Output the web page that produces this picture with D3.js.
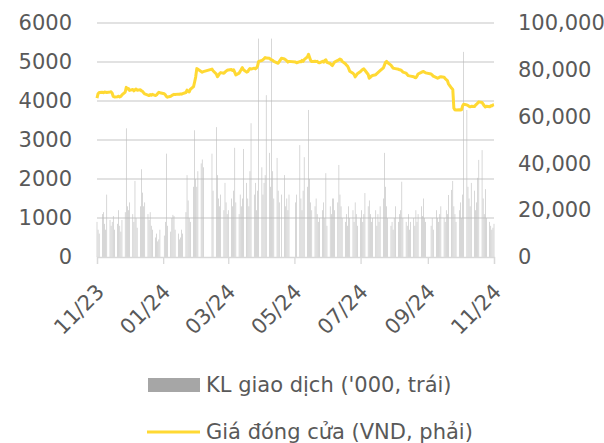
<!DOCTYPE html>
<html>
<head>
<meta charset="utf-8">
<script src="https://cdn.jsdelivr.net/npm/d3@7"></script>
<style>
body { margin: 0; background: #fff; }
text { font-family: "DejaVu Sans", sans-serif; fill: #595959; }
</style>
</head>
<body>
<div class="main"></div>
<script>
//canvas config
var margin = {top: 23, right: 110, bottom: 186, left: 97};
var width = 604 - margin.left - margin.right;
var height = 443 - margin.top - margin.bottom;

//market holidays (no trading)
var holidays = ["2024-01-01", "2024-02-08", "2024-02-09", "2024-02-12", "2024-02-13", "2024-02-14",
	"2024-04-18", "2024-04-29", "2024-04-30", "2024-05-01", "2024-09-02", "2024-09-03"];

//closing price, VND (one per trading day)
var closePrice = [
	67900, 69800, 70300, 70400, 70200, 70500, 70400, 70300, 70500, 70600, 70000, 68600, 68400, 68500, 68700, 68400, 68600, 69300, 70500, 72500, 71800, 72000,//11/23
	71200, 71600, 71000, 71400, 71800, 71300, 71500, 71000, 70800, 70200, 69700, 69200, 69000, 69400, 69100, 69500, 69000, 69300, 69900, 70400, 70200,//12/23
	69800, 69300, 68600, 68300, 68700, 69000, 69300, 69500, 69400, 69600, 69500, 69700, 69600, 69800, 70300, 71300, 70800, 70500, 71600, 72800, 74800, 77000,//01/24
	80500, 80200, 79300, 79000, 79200, 80300, 79600, 78200, 77000, 77600, 78400, 78800, 78500, 79000, 79400, 79800,//02/24
	79900, 80100, 79700, 80000, 78900, 77800, 78600, 79300, 80200, 80900, 80000, 79000, 79200, 80000, 80500, 80300, 80700, 80400, 80800, 81600, 83600,//03/24
	84000, 84300, 84700, 85200, 85000, 84900, 84500, 84200, 84000, 83600, 83000, 82800, 83500, 84900, 84600, 84200, 83800, 83300, 83600,//04/24
	83300, 83000, 83500, 83400, 84000, 83600, 84300, 85500, 86600, 85300, 84000, 83500, 83700, 83500, 83600, 83200, 83000, 83600, 83300, 84000, 84300, 83200,//05/24
	82700, 82200, 81800, 82600, 83300, 84000, 84300, 84600, 84400, 83600, 82600, 82000, 81600, 80600, 79400, 78500, 78000, 77000, 77600, 78300,//06/24
	79300, 79800, 80200, 80400, 79800, 78000, 76400, 76800, 77300, 77600, 77900, 78400, 78800, 79200, 79600, 80800, 82000, 83200, 83600, 83000, 82000, 81300, 80700,//07/24
	80600, 80500, 80200, 80000, 79900, 79600, 79000, 78600, 78000, 77500, 77400, 77300, 77000, 76700, 76600, 77300, 78200, 78900, 79200, 79300, 79000, 78700,//08/24
	78200, 77800, 77300, 76700, 76400, 76600, 76900, 77000, 76800, 76200, 75800, 75400, 74000, 72100, 71600, 63600, 62900, 62800, 62900,//09/24
	62800, 62900, 64500, 65300, 65000, 64700, 64400, 64200, 64400, 64300, 64900, 65300, 65800, 66300, 66000, 65300, 64600, 64100, 64400, 64200, 64600, 64500, 65000,//10/24
	65100//11/24
];

//trading volume, '000 shares
var volume = [
	900, 700, 600, 1100, 1150, 850, 700, 1600, 950, 800, 900, 1050, 700, 850, 1200, 800, 650, 950, 1150, 3300, 1300, 1200,
	1400, 1100, 900, 1950, 1000, 750, 1300, 2250, 1650, 1300, 1400, 1100, 950, 1150, 800, 700, 500, 600, 400, 450, 700,
	550, 900, 2650, 800, 650, 1000, 1080, 1050, 700, 600, 450, 500, 700, 600, 1150, 2100, 1450, 1000, 900, 1800, 3250, 2000,
	1800, 2200, 2400, 2500, 2300, 2650, 1700, 3330, 2100, 1500, 1300, 1600, 1200, 1900, 1400, 1100,
	1200, 1500, 1300, 1700, 2800, 1400, 1100, 1600, 1300, 1500, 2770, 1900, 1500, 1300, 2200, 3430, 1600, 1900, 1200, 1700, 5600,
	2300, 1600, 1900, 2100, 4150, 2670, 1800, 5600, 2200, 1500, 2540, 1700, 1400, 1600, 2100, 1300, 1500, 1200, 1600,
	1400, 1600, 2870, 1500, 1200, 1700, 2560, 1800, 3770, 2000, 1400, 1200, 1300, 1500, 1100, 900, 1000, 1200, 1400, 1000, 2150, 800,
	1300, 1100, 1500, 1500, 1200, 1400, 2360, 1600, 1300, 1000, 900, 1100, 800, 1300, 1000, 1200, 900, 1400, 1100, 800,
	1000, 1200, 900, 1100, 1640, 1300, 1450, 1100, 900, 1000, 1200, 800, 1100, 900, 1300, 1500, 2670, 1800, 1300, 1000, 800, 900, 700,
	1000, 1300, 900, 1100, 1200, 1930, 1000, 900, 800, 1100, 700, 900, 1000, 800, 1200, 900, 1100, 1300, 1050, 1500, 1000, 900,
	800, 1000, 700, 1200, 1000, 900, 1100, 1300, 1000, 900, 1200, 1100, 1590, 1720, 1950, 1300, 1100, 900, 1200,
	1400, 1000, 1600, 5260, 3770, 1800, 1500, 1300, 1900, 1700, 1200, 1400, 2030, 2490, 2740, 1500, 1100, 1740, 1000, 900, 800, 700, 750,
	850
];

var leftTicks = [0, 1000, 2000, 3000, 4000, 5000, 6000];
var rightTicks = [0, 20000, 40000, 60000, 80000, 100000];
var monthTicks = ["2023-11-01", "2024-01-01", "2024-03-01", "2024-05-01", "2024-07-01", "2024-09-01", "2024-11-01"];
var legendLabels = ["KL giao dịch ('000, trái)", "Giá đóng cửa (VND, phải)"];

var fmtDay = d3.timeFormat("%Y-%m-%d");
var parseDay = d3.timeParse("%Y-%m-%d");

//trading calendar: weekdays minus holidays
var tradingDays = d3.timeDay.range(new Date(2023, 10, 1), new Date(2024, 10, 2))
	.filter(function(d) { return d.getDay() != 0 && d.getDay() != 6 && holidays.indexOf(fmtDay(d)) == -1; });

var n = Math.min(tradingDays.length, closePrice.length, volume.length);
var data = [];
for (var i = 0; i < n; i++) {
	data.push({date: tradingDays[i], price: closePrice[i], vol: volume[i]});
}

var svg = d3.select(".main")
	.append("svg")
	.attr("width", 604)
	.attr("height", 443);

var g = svg.append("g")
	.attr("transform", "translate(" + margin.left + "," + margin.top + ")");

var xScale = d3.scaleTime()
	.domain([parseDay("2023-11-01"), parseDay("2024-11-01")])
	.range([0, width]);
var yLeft = d3.scaleLinear().domain([0, 6000]).range([height, 0]);
var yRight = d3.scaleLinear().domain([0, 100000]).range([height, 0]);

//gridlines
g.append("g")
	.attr("class", "grid")
	.selectAll("line")
	.data(leftTicks.slice(1))
	.enter()
	.append("line")
	.attr("x1", 0)
	.attr("x2", width)
	.attr("y1", function(d) { return yLeft(d); })
	.attr("y2", function(d) { return yLeft(d); })
	.style("stroke", "#d9d9d9")
	.style("stroke-width", 1.3);

//volume bars
g.append("g")
	.attr("class", "bars")
	.selectAll("rect")
	.data(data)
	.enter()
	.append("rect")
	.attr("x", function(d) { return xScale(d.date) - 0.3; })
	.attr("width", 0.6)
	.attr("y", function(d) { return yLeft(d.vol); })
	.attr("height", function(d) { return height - yLeft(d.vol); })
	.style("fill", "#bdbdbd");

//x axis
var xAxis = d3.axisBottom(xScale)
	.tickValues(monthTicks.map(parseDay))
	.tickFormat(d3.timeFormat("%m/%y"))
	.tickSize(7);
var xg = g.append("g")
	.attr("class", "x-axis")
	.attr("transform", "translate(0," + height + ")")
	.call(xAxis);
xg.select(".domain").style("stroke", "#d9d9d9").style("stroke-width", 1.3);
xg.selectAll(".tick line").style("stroke", "#d9d9d9").style("stroke-width", 1.3);
xg.selectAll(".tick text")
	.attr("y", null)
	.attr("dy", null)
	.attr("text-anchor", "end")
	.attr("transform", "translate(8,36) rotate(-45)")
	.style("font-size", "21px")
	.style("fill", "#595959");

//left axis
var yAxisL = d3.axisLeft(yLeft).tickValues(leftTicks).tickSize(0).tickPadding(25)
	.tickFormat(d3.format("d"));
var lg = g.append("g").attr("class", "y-axis").call(yAxisL);
lg.select(".domain").remove();
lg.selectAll("text").style("font-size", "21px").style("fill", "#595959");

//right axis
var yAxisR = d3.axisRight(yRight).tickValues(rightTicks).tickSize(0).tickPadding(24)
	.tickFormat(d3.format(","));
var rg = g.append("g").attr("class", "y-axis-right")
	.attr("transform", "translate(" + width + ",0)")
	.call(yAxisR);
rg.select(".domain").remove();
rg.selectAll("text").style("font-size", "21px").style("fill", "#595959");

//price line
var lineFunc = d3.line()
	.x(function(d) { return xScale(d.date); })
	.y(function(d) { return yRight(d.price); });
g.append("path")
	.datum(data)
	.attr("d", lineFunc)
	.style("fill", "none")
	.style("stroke", "#ffd933")
	.style("stroke-width", 3)
	.style("stroke-linejoin", "round");

//legend
var legend = svg.append("g").attr("class", "legend");
legend.append("rect")
	.attr("x", 148).attr("y", 378)
	.attr("width", 52).attr("height", 14)
	.style("fill", "#a6a6a6");
legend.append("line")
	.attr("x1", 147).attr("x2", 200)
	.attr("y1", 432).attr("y2", 432)
	.style("stroke", "#ffd933")
	.style("stroke-width", 3);
legend.selectAll("text")
	.data(legendLabels)
	.enter()
	.append("text")
	.attr("x", 206)
	.attr("y", function(d, i) { return 385 + i * 47; })
	.attr("dy", "0.35em")
	.style("font-size", "21px")
	.text(function(d) { return d; });
</script>
</body>
</html>
